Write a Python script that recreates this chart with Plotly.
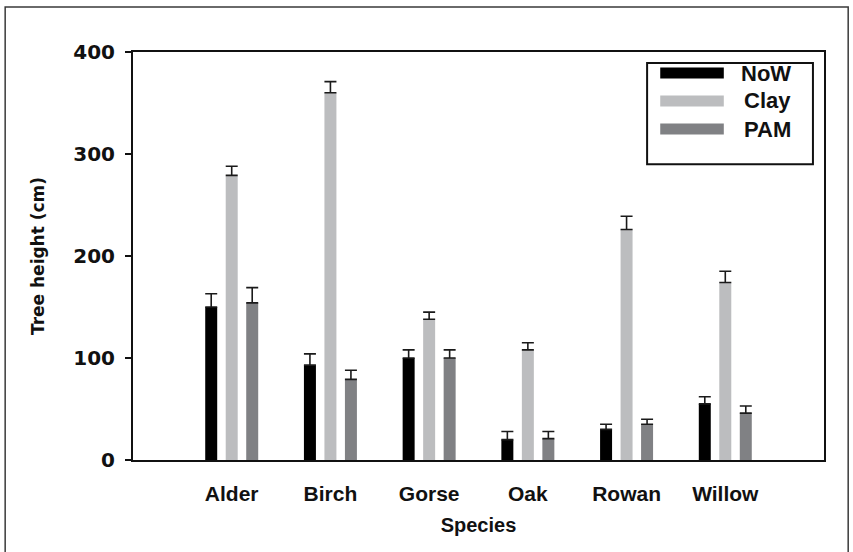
import plotly.graph_objects as go

species = ["Alder", "Birch", "Gorse", "Oak", "Rowan", "Willow"]
series_names = ["NoW", "Clay", "PAM"]
now_vals = [150, 93, 100, 20, 30, 55]
now_err = [13, 11, 8, 8, 5, 7]
clay_vals = [279, 360, 138, 108, 226, 174]
clay_err = [9, 11, 7, 7, 13, 11]
pam_vals = [154, 79, 100, 21, 35, 46]
pam_err = [15, 9, 8, 7, 5, 7]
colors = ["#000000", "#bcbdbf", "#808184"]
y_ticks = [0, 100, 200, 300, 400]

vals = [now_vals, clay_vals, pam_vals]
errs = [now_err, clay_err, pam_err]

fig = go.Figure()
for name, v, e, c in zip(series_names, vals, errs, colors):
    fig.add_trace(go.Bar(
        x=species, y=v, name=name, marker=dict(color=c, line=dict(width=0)),
        error_y=dict(type="data", array=e, symmetric=False, arrayminus=[0]*len(e),
                     color="#1a1a1a", thickness=1.6, width=6),
        showlegend=False,
    ))

# Legend drawn manually (wide swatches like the reference)
shapes = [
    dict(type="rect", xref="paper", yref="paper", x0=-0.185, x1=1.035, y0=-0.24, y1=1.11,
         line=dict(color="#3a3a3a", width=1.5), fillcolor="rgba(0,0,0,0)", layer="below"),
    dict(type="rect", xref="paper", yref="paper", x0=0.744, x1=0.984, y0=0.725, y1=0.973,
         line=dict(color="#111111", width=2), fillcolor="white", layer="above"),
]
annotations = []
ys = [0.9485, 0.880, 0.811]
for name, c, yc in zip(series_names, colors, ys):
    shapes.append(dict(type="rect", xref="paper", yref="paper", x0=0.763, x1=0.855,
                       y0=yc - 0.0135, y1=yc + 0.0135, line=dict(width=0), fillcolor=c, layer="above"))
    annotations.append(dict(xref="paper", yref="paper", x=0.955, y=yc, text="<b>%s</b>" % name,
                            showarrow=False, xanchor="right", yanchor="middle",
                            font=dict(family="Liberation Sans", size=22, color="#111111")))

fig.update_layout(
    width=853, height=552,
    margin=dict(l=133, r=29, t=52, b=92),
    paper_bgcolor="white", plot_bgcolor="white",
    barmode="group", bargap=0.377, bargroupgap=0.415,
    shapes=shapes, annotations=annotations,
    xaxis=dict(
        type="category", range=[-1, 6], showgrid=False, ticks="",
        showline=True, linecolor="#111111", linewidth=2, mirror=True,
        tickfont=dict(family="Liberation Sans", size=21, color="#111111", weight="bold"),
        ticklabelstandoff=14,
        title=dict(text="<b>Species</b>", font=dict(family="Liberation Sans", size=20, color="#111111"),
                   standoff=14),
    ),
    yaxis=dict(
        range=[0, 400], tickvals=y_ticks, showgrid=False, zeroline=False,
        ticks="outside", ticklen=6, tickwidth=1.5, tickcolor="#111111",
        showline=True, linecolor="#111111", linewidth=2, mirror=True,
        tickfont=dict(family="DejaVu Sans", size=20, color="#111111", weight="bold"),
        ticklabelstandoff=6,
        title=dict(text="<b>Tree height (cm)</b>", font=dict(family="DejaVu Sans", size=17, color="#111111"),
                   standoff=24),
    ),
)

fig.write_html("out.html", config={"displayModeBar": False},
               post_script="document.body.style.margin='0';")
